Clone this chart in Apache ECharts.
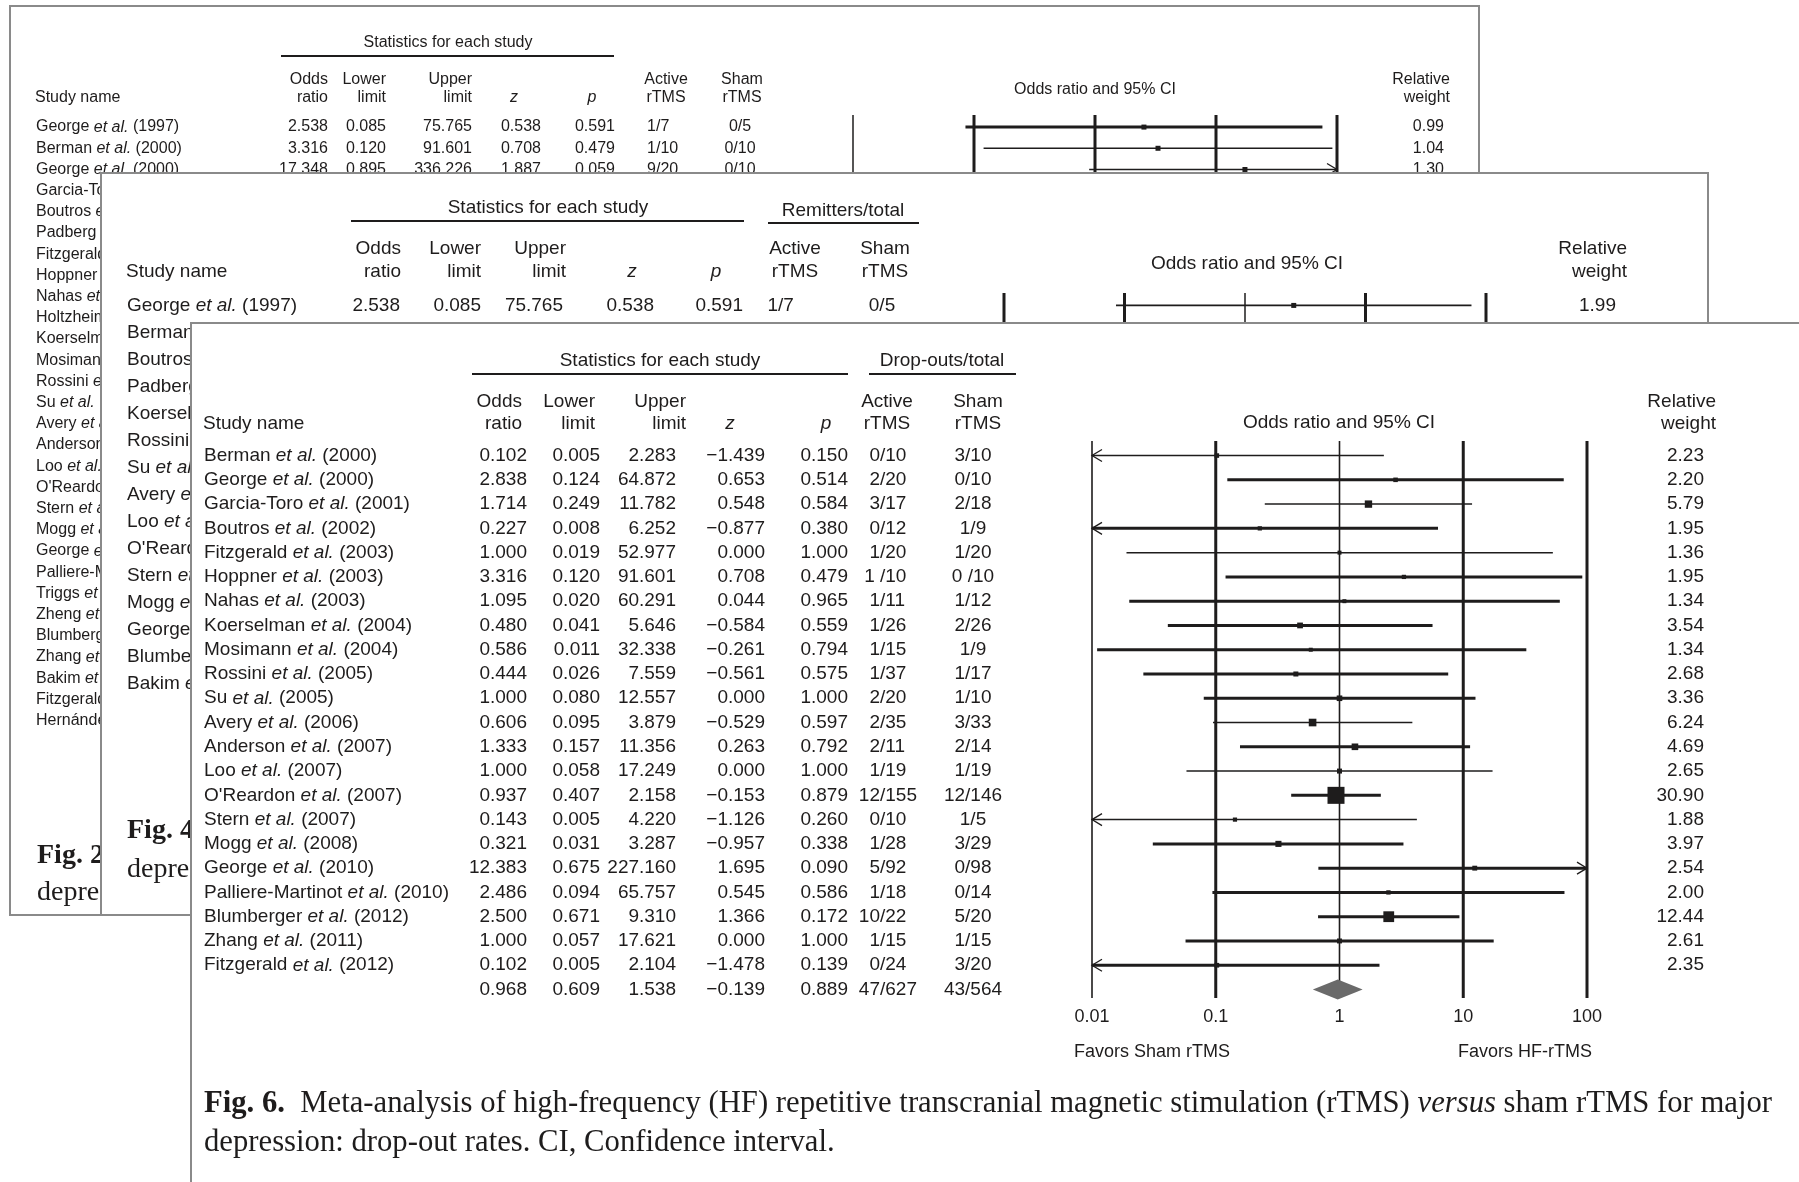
<!DOCTYPE html>
<html>
<head>
<meta charset="UTF-8">
<script src="https://cdn.jsdelivr.net/npm/echarts@6/dist/echarts.min.js"></script>
<style>html,body{margin:0;padding:0;background:#fff}</style>
</head>
<body>
<div id="main" style="width:1799px;height:1182px"></div>
<script type="text/javascript">
// ---------- data ----------
var xTicks = [0.01, 0.1, 1, 10, 100];

// Fig. 6 (front page): drop-outs
var frontStudies = ['Berman et al. (2000)', 'George et al. (2000)', 'Garcia-Toro et al. (2001)', 'Boutros et al. (2002)',
    'Fitzgerald et al. (2003)', 'Hoppner et al. (2003)', 'Nahas et al. (2003)', 'Koerselman et al. (2004)',
    'Mosimann et al. (2004)', 'Rossini et al. (2005)', 'Su et al. (2005)', 'Avery et al. (2006)',
    'Anderson et al. (2007)', 'Loo et al. (2007)', "O'Reardon et al. (2007)", 'Stern et al. (2007)',
    'Mogg et al. (2008)', 'George et al. (2010)', 'Palliere-Martinot et al. (2010)', 'Blumberger et al. (2012)',
    'Zhang et al. (2011)', 'Fitzgerald et al. (2012)'];
var frontOR = [0.102, 2.838, 1.714, 0.227, 1.000, 3.316, 1.095, 0.480, 0.586, 0.444, 1.000,
    0.606, 1.333, 1.000, 0.937, 0.143, 0.321, 12.383, 2.486, 2.500, 1.000, 0.102];
var frontLower = [0.005, 0.124, 0.249, 0.008, 0.019, 0.120, 0.020, 0.041, 0.011, 0.026, 0.080,
    0.095, 0.157, 0.058, 0.407, 0.005, 0.031, 0.675, 0.094, 0.671, 0.057, 0.005];
var frontUpper = [2.283, 64.872, 11.782, 6.252, 52.977, 91.601, 60.291, 5.646, 32.338, 7.559, 12.557,
    3.879, 11.356, 17.249, 2.158, 4.220, 3.287, 227.160, 65.757, 9.310, 17.621, 2.104];
var frontZ = [-1.439, 0.653, 0.548, -0.877, 0.000, 0.708, 0.044, -0.584, -0.261, -0.561, 0.000,
    -0.529, 0.263, 0.000, -0.153, -1.126, -0.957, 1.695, 0.545, 1.366, 0.000, -1.478];
var frontP = [0.150, 0.514, 0.584, 0.380, 1.000, 0.479, 0.965, 0.559, 0.794, 0.575, 1.000,
    0.597, 0.792, 1.000, 0.879, 0.260, 0.338, 0.090, 0.586, 0.172, 1.000, 0.139];
var frontActive = ['0/10', '2/20', '3/17', '0/12', '1/20', '1 /10', '1/11', '1/26', '1/15', '1/37', '2/20',
    '2/35', '2/11', '1/19', '12/155', '0/10', '1/28', '5/92', '1/18', '10/22', '1/15', '0/24'];
var frontSham = ['3/10', '0/10', '2/18', '1/9', '1/20', '0 /10', '1/12', '2/26', '1/9', '1/17', '1/10',
    '3/33', '2/14', '1/19', '12/146', '1/5', '3/29', '0/98', '0/14', '5/20', '1/15', '3/20'];
var frontWeight = [2.23, 2.20, 5.79, 1.95, 1.36, 1.95, 1.34, 3.54, 1.34, 2.68, 3.36,
    6.24, 4.69, 2.65, 30.90, 1.88, 3.97, 2.54, 2.00, 12.44, 2.61, 2.35];
// pooled: odds ratio, lower, upper, z, p
var pooledStats = [0.968, 0.609, 1.538, -0.139, 0.889];
var pooledCounts = ['47/627', '43/564'];

// Fig. 4 (middle page): remitters, only the first row is uncovered
var midStudies = ['George et al. (1997)', 'Berman et al. (2000)', 'Boutros et al. (2002)', 'Padberg et al. (2002)',
    'Koerselman et al. (2004)', 'Rossini et al. (2005)', 'Su et al. (2005)', 'Avery et al. (2006)',
    'Loo et al. (2007)', "O'Reardon et al. (2007)", 'Stern et al. (2007)', 'Mogg et al. (2008)',
    'George et al. (2010)', 'Blumberger et al. (2012)', 'Bakim et al. (2012)'];
var midOR = [2.538];
var midLower = [0.085];
var midUpper = [75.765];
var midZ = [0.538];
var midP = [0.591];
var midActive = ['1/7'];
var midSham = ['0/5'];
var midWeight = [1.99];

// Fig. 2 (back page): first three rows are uncovered
var backStudies = ['George et al. (1997)', 'Berman et al. (2000)', 'George et al. (2000)', 'Garcia-Toro et al. (2001)',
    'Boutros et al. (2002)', 'Padberg et al. (2002)', 'Fitzgerald et al. (2003)', 'Hoppner et al. (2003)',
    'Nahas et al. (2003)', 'Holtzheimer et al. (2004)', 'Koerselman et al. (2004)', 'Mosimann et al. (2004)',
    'Rossini et al. (2005)', 'Su et al. (2005)', 'Avery et al. (2006)', 'Anderson et al. (2007)',
    'Loo et al. (2007)', "O'Reardon et al. (2007)", 'Stern et al. (2007)', 'Mogg et al. (2008)',
    'George et al. (2010)', 'Palliere-Martinot et al. (2010)', 'Triggs et al. (2010)', 'Zheng et al. (2010)',
    'Blumberger et al. (2012)', 'Zhang et al. (2011)', 'Bakim et al. (2012)', 'Fitzgerald et al. (2012)',
    'Hernández et al. (2013)'];
var backOR = [2.538, 3.316, 17.348];
var backLower = [0.085, 0.120, 0.895];
var backUpper = [75.765, 91.601, 336.226];
var backZ = [0.538, 0.708, 1.887];
var backP = [0.591, 0.479, 0.059];
var backActive = ['1/7', '1/10', '9/20'];
var backSham = ['0/5', '0/10', '0/10'];
var backWeight = [0.99, 1.04, 1.30];

// ---------- look ----------
var INK = '#1e1c1c';
var SANS = "'Liberation Sans', Arial, Helvetica, sans-serif";
var SERIF = "'Liberation Serif', 'Times New Roman', serif";

var pages = [
    {   // back
        z: 1, font: 16, box: [10, 6, 1469, 909],
        left: 853, width: 484, top: 115, rowStep: 21.2, yMin: -0.57, yMax: 31,
        refWidths: [1.5, 3, 3, 3, 3], ciWidths: [3, 1.5, 1.5], markMin: 5,
        cols: {name: 36, or: 328, lower: 386, upper: 472, z: 541, p: 615, active: 656, sham: 740, weight: 1444},
        data: {studies: backStudies, or: backOR, lower: backLower, upper: backUpper, z: backZ, p: backP,
            active: backActive, sham: backSham, weight: backWeight}
    },
    {   // middle
        z: 4, font: 19, box: [101, 173, 1607, 742],
        left: 1004, width: 482, top: 293, rowStep: 27, yMin: -0.46, yMax: 16.5,
        refWidths: [3, 3, 1.5, 3, 3], ciWidths: [1.8], markMin: 5,
        cols: {name: 127, or: 400, lower: 481, upper: 563, z: 654, p: 743, active: 778, sham: 882, weight: 1616},
        data: {studies: midStudies, or: midOR, lower: midLower, upper: midUpper, z: midZ, p: midP,
            active: midActive, sham: midSham, weight: midWeight}
    },
    {   // front
        z: 7, font: 19, box: [191, 323, 1640, 900],
        left: 1092, width: 495, top: 441, rowStep: 24.27, yMin: -0.6, yMax: 22.35,
        refWidths: [1.6, 3, 1.6, 3, 3],
        ciWidths: [1.5, 3, 1.5, 3, 1.5, 3, 3, 3, 3, 3, 3, 1.5, 3, 1.5, 3, 1.5, 3, 3, 3, 3, 3, 3],
        markMin: 4,
        cols: {name: 204, or: 527, lower: 600, upper: 676, z: 765, p: 848, active: 880, sham: 973, weight: 1704},
        data: {studies: frontStudies, or: frontOR, lower: frontLower, upper: frontUpper, z: frontZ, p: frontP,
            active: frontActive, sham: frontSham, weight: frontWeight}
    }
];

// ---------- helpers ----------
function fmt3(v) { return (v < 0 ? '\u2212' : '') + Math.abs(v).toFixed(3); }

function nameRich(s) {
    var m = s.match(/^(.*?)et al\.(.*)$/);
    if (!m) return '{n|' + s + '}';
    return '{n|' + m[1] + '}{i|et al.}{n|' + m[2] + '}';
}

function richFor(size) {
    return {
        n: {fontSize: size, fontFamily: SANS, fill: INK},
        i: {fontSize: size, fontFamily: SANS, fill: INK, fontStyle: 'italic'}
    };
}

function tx(text, x, y, align, size, extra) {
    var st = {text: text, fontSize: size, fontFamily: SANS, fill: INK, align: align, verticalAlign: 'middle'};
    if (extra) { for (var k in extra) { st[k] = extra[k]; } }
    return {type: 'text', x: x, y: y, style: st};
}

// "a/b" lined up on the slash
function countTexts(s, x, y, size) {
    var k = s.indexOf('/');
    return [tx(s.slice(0, k), x, y, 'right', size), tx(s.slice(k), x, y, 'left', size)];
}

function arrowHead(x, y, dir) {
    return {type: 'polyline', shape: {points: [[x + dir * 10, y - 6], [x, y], [x + dir * 10, y + 6]]},
        style: {stroke: INK, lineWidth: 1.3, fill: null}};
}

// ---------- renderers ----------
function namesRenderer(P) {
    return function (params, api) {
        var i = params.dataIndex;
        var y = api.coord([1, i])[1];
        return tx(nameRich(P.data.studies[i]), P.cols.name, y, 'left', P.font, {rich: richFor(P.font)});
    };
}

function rowsRenderer(P) {
    return function (params, api) {
        var i = params.dataIndex, D = P.data, c = P.cols, f = P.font;
        var m = api.coord([D.or[i], i]);
        var y = m[1];
        var kids = [
            tx(fmt3(D.or[i]), c.or, y, 'right', f),
            tx(fmt3(D.lower[i]), c.lower, y, 'right', f),
            tx(fmt3(D.upper[i]), c.upper, y, 'right', f),
            tx(fmt3(D.z[i]), c.z, y, 'right', f),
            tx(fmt3(D.p[i]), c.p, y, 'right', f),
            tx(D.sham[i], c.sham, y, 'center', f),
            tx(D.weight[i].toFixed(2), c.weight, y, 'right', f)
        ].concat(countTexts(D.active[i], c.active, y, f));

        var a = api.coord([Math.max(D.lower[i], 0.01), i]);
        var b = api.coord([Math.min(D.upper[i], 100), i]);
        kids.push({type: 'line', shape: {x1: a[0], y1: y, x2: b[0], y2: y},
            style: {stroke: INK, lineWidth: P.ciWidths[i]}});
        if (D.lower[i] < 0.01) kids.push(arrowHead(a[0], y, 1));
        if (D.upper[i] > 100) kids.push(arrowHead(b[0], y, -1));
        var s = Math.max(P.markMin, 17 * Math.sqrt(D.weight[i] / 30.9));
        kids.push({type: 'rect', z2: 3, shape: {x: m[0] - s / 2, y: y - s / 2, width: s, height: s},
            style: {fill: INK}});
        return {type: 'group', children: kids};
    };
}

function refRenderer(P) {
    return function (params, api) {
        var v = api.value(0);
        var p1 = api.coord([v, P.yMin]), p2 = api.coord([v, P.yMax]);
        return {type: 'line', shape: {x1: p1[0], y1: p1[1], x2: p2[0], y2: p2[1]},
            style: {stroke: INK, lineWidth: P.refWidths[params.dataIndex]}};
    };
}

function pooledRenderer(P) {
    return function (params, api) {
        var row = api.value(1), c = P.cols, f = P.font;
        var m = api.coord([pooledStats[0], row]);
        var a = api.coord([pooledStats[1], row]);
        var b = api.coord([pooledStats[2], row]);
        var y = m[1];
        var kids = [
            tx(fmt3(pooledStats[0]), c.or, y, 'right', f),
            tx(fmt3(pooledStats[1]), c.lower, y, 'right', f),
            tx(fmt3(pooledStats[2]), c.upper, y, 'right', f),
            tx(fmt3(pooledStats[3]), c.z, y, 'right', f),
            tx(fmt3(pooledStats[4]), c.p, y, 'right', f),
            tx(pooledCounts[1], c.sham, y, 'center', f),
            {type: 'polygon', shape: {points: [[a[0], y], [m[0], y - 10], [b[0], y], [m[0], y + 10]]},
                style: {fill: '#6a6a6a'}}
        ].concat(countTexts(pooledCounts[0], c.active, y, f));
        return {type: 'group', children: kids};
    };
}

// ---------- graphic (pages, headers, captions) ----------
function gText(text, x, y, align, size, z, extra) {
    var el = tx(text, x, y, align, size, extra);
    el.z = z;
    return el;
}
function gLine(x1, x2, y, z) {
    return {type: 'line', z: z, shape: {x1: x1, y1: y, x2: x2, y2: y}, style: {stroke: INK, lineWidth: 2}};
}
function gPage(P) {
    return {type: 'rect', z: P.z, shape: {x: P.box[0], y: P.box[1], width: P.box[2], height: P.box[3]},
        style: {fill: '#fff', stroke: '#8a8a8a', lineWidth: 2}};
}
function headers(P, h) {
    var t = P.z + 1, f = P.font, it = {fontStyle: 'italic'};
    return [
        gText('Statistics for each study', h.statX, h.titleY, 'center', f, t),
        gLine(h.statLine[0], h.statLine[1], h.lineY, t),
        gText('Study name', P.cols.name - 1, h.y2, 'left', f, t),
        gText('Odds', h.or, h.y1, 'right', f, t), gText('ratio', h.or, h.y2, 'right', f, t),
        gText('Lower', h.lower, h.y1, 'right', f, t), gText('limit', h.lower, h.y2, 'right', f, t),
        gText('Upper', h.upper, h.y1, 'right', f, t), gText('limit', h.upper, h.y2, 'right', f, t),
        gText('z', h.z, h.y2, 'center', f, t, it),
        gText('p', h.p, h.y2, 'center', f, t, it),
        gText('Active', h.active, h.y1, 'center', f, t), gText('rTMS', h.active, h.y2, 'center', f, t),
        gText('Sham', h.sham, h.y1, 'center', f, t), gText('rTMS', h.sham, h.y2, 'center', f, t),
        gText('Odds ratio and 95% CI', h.ciX, h.ciY, 'center', f, t),
        gText('Relative', h.weight, h.y1, 'right', f, t), gText('weight', h.weight, h.y2, 'right', f, t)
    ];
}
function captionRich(size) {
    return {
        b: {fontSize: size, fontFamily: SERIF, fill: INK, fontWeight: 'bold'},
        r: {fontSize: size, fontFamily: SERIF, fill: INK},
        i: {fontSize: size, fontFamily: SERIF, fill: INK, fontStyle: 'italic'}
    };
}

var back = pages[0], mid = pages[1], front = pages[2];
var elements = [];

elements.push(gPage(back));
elements = elements.concat(headers(back, {
    statX: 448, titleY: 43, statLine: [281, 614], lineY: 56, y1: 80, y2: 98,
    or: 328, lower: 386, upper: 472, z: 514, p: 592, active: 666, sham: 742,
    ciX: 1095, ciY: 90, weight: 1450
}));
elements.push(gText('{b|Fig. 2.}', 37, 856, 'left', 28, 2, {rich: captionRich(28)}));
elements.push(gText('{r|depression}', 37, 893, 'left', 28, 2, {rich: captionRich(28)}));

elements.push(gPage(mid));
elements = elements.concat(headers(mid, {
    statX: 548, titleY: 208, statLine: [351, 744], lineY: 221, y1: 249, y2: 272,
    or: 401, lower: 481, upper: 566, z: 632, p: 716, active: 795, sham: 885,
    ciX: 1247, ciY: 264, weight: 1627
}));
elements.push(gText('Remitters/total', 843, 211, 'center', mid.font, 5));
elements.push(gLine(768, 919, 223, 5));
elements.push(gText('{b|Fig. 4.}', 127, 831, 'left', 28, 5, {rich: captionRich(28)}));
elements.push(gText('{r|depression}', 127, 870, 'left', 28, 5, {rich: captionRich(28)}));

elements.push(gPage(front));
elements = elements.concat(headers(front, {
    statX: 660, titleY: 361, statLine: [472, 848], lineY: 374, y1: 402, y2: 424,
    or: 522, lower: 595, upper: 686, z: 730, p: 826, active: 887, sham: 978,
    ciX: 1339, ciY: 423, weight: 1716
}));
elements.push(gText('Drop-outs/total', 942, 361, 'center', front.font, 8));
elements.push(gLine(869, 1016, 374, 8));
elements.push(gText('Favors Sham rTMS', 1074, 1052, 'left', 18, 8));
elements.push(gText('Favors HF-rTMS', 1458, 1052, 'left', 18, 8));
elements.push(gText('{b|Fig. 6.}{r|  Meta-analysis of high-frequency (HF) repetitive transcranial magnetic stimulation (rTMS) }{i|versus}{r| sham rTMS for major}',
    204, 1104, 'left', 30.7, 8, {rich: captionRich(30.7)}));
elements.push(gText('{r|depression: drop-out rates. CI, Confidence interval.}', 204, 1143, 'left', 30.7, 8, {rich: captionRich(30.7)}));

// ---------- axes and series ----------
var grids = [], xAxes = [], yAxes = [], series = [];
pages.forEach(function (P, k) {
    grids.push({left: P.left, top: P.top, width: P.width, height: (P.yMax - P.yMin) * P.rowStep,
        containLabel: false, outerBoundsMode: 'none'});
    xAxes.push({
        type: 'log', logBase: 10, gridIndex: k, min: 0.01, max: 100, show: k === 2, z: P.z + 1,
        axisLine: {show: false}, axisTick: {show: false}, splitLine: {show: false},
        axisLabel: {fontSize: 18, color: INK, fontFamily: SANS, margin: 10,
            formatter: function (v) { return String(+Number(v).toPrecision(2)); }}
    });
    yAxes.push({type: 'value', gridIndex: k, min: P.yMin, max: P.yMax, inverse: true, show: false,
        splitLine: {show: false}});
    var common = {type: 'custom', coordinateSystem: 'cartesian2d', xAxisIndex: k, yAxisIndex: k,
        encode: {x: 0, y: 1}, z: P.z + 1, silent: true, clip: false};
    series.push(Object.assign({}, common, {
        name: 'refs' + k, renderItem: refRenderer(P),
        data: xTicks.map(function (v) { return [v, P.yMin]; })
    }));
    series.push(Object.assign({}, common, {
        name: 'names' + k, renderItem: namesRenderer(P),
        data: P.data.studies.map(function (s, i) { return [1, i]; })
    }));
    series.push(Object.assign({}, common, {
        name: 'rows' + k, renderItem: rowsRenderer(P),
        data: P.data.or.map(function (v, i) { return [v, i]; })
    }));
});
series.push({
    type: 'custom', coordinateSystem: 'cartesian2d', xAxisIndex: 2, yAxisIndex: 2,
    encode: {x: 0, y: 1}, z: front.z + 1, silent: true, clip: false, name: 'pooled',
    renderItem: pooledRenderer(front),
    data: [[pooledStats[0], frontStudies.length]]
});

var chart = echarts.init(document.getElementById('main'));
var option = {
    animation: false,
    backgroundColor: '#ffffff',
    tooltip: {show: false},
    grid: grids,
    xAxis: xAxes,
    yAxis: yAxes,
    graphic: {elements: elements},
    series: series
};
option && chart.setOption(option);
</script>
</body>
</html>
